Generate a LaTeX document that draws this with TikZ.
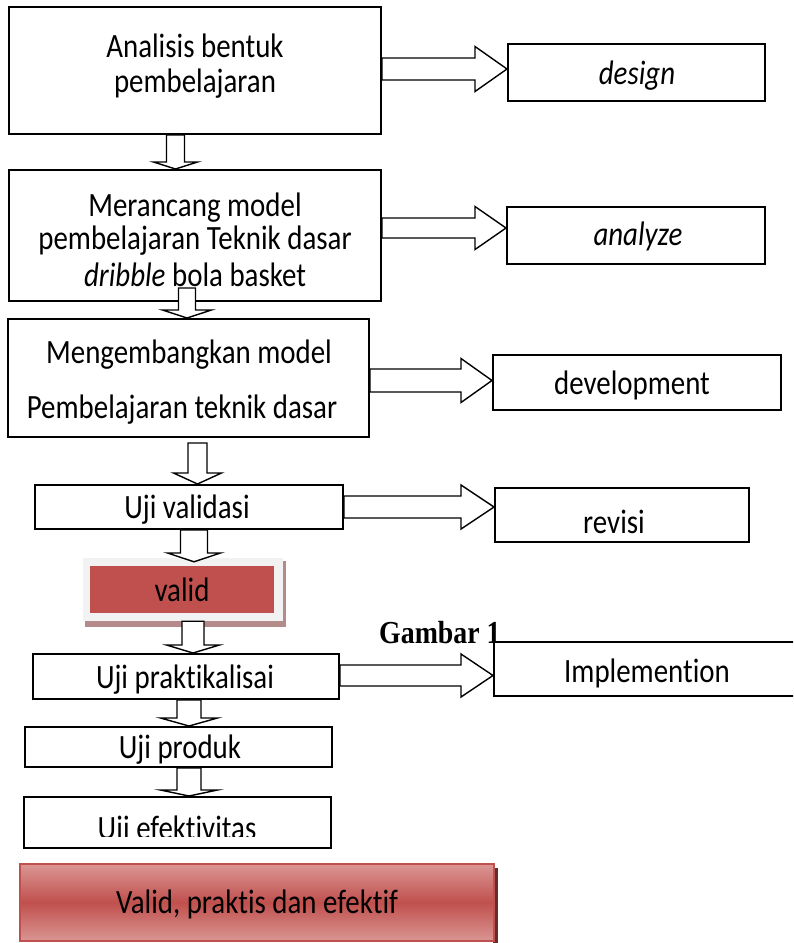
\documentclass[tikz,border=0pt]{standalone}
\usepackage{fontspec}
\setmainfont{Carlito}[FakeStretch=0.85, Ligatures=NoCommon]
\newfontfamily\capfont{Liberation Serif}[FakeStretch=0.87]
\usetikzlibrary{calc}
\definecolor{redfill}{HTML}{C0504D}
\definecolor{pinklight}{HTML}{DA9694}
\definecolor{palefr}{HTML}{F2F2F2}
\definecolor{shadowr}{HTML}{B38B8B}
\definecolor{darkshadow}{HTML}{6B2A2A}
\tikzset{
  box/.style={draw=black, line width=2pt, fill=white, rectangle, inner sep=0pt},
  txt/.style={anchor=base, inner sep=0pt, font=\fontsize{34}{40}\selectfont},
  blockarrow/.style={draw=black, line width=1.4pt, fill=white, line join=miter},
}
% box by corners: name, x1, y1, x2, y2
\newcommand{\boxat}[5]{\node[box, minimum width={(#4-#2)*1pt}, minimum height={(#5-#3)*1pt}] (#1) at ({(#2+#4)/2},{(#3+#5)/2}) {};}
% horizontal block arrow: from, to, y centre, head base x, half shaft, half head
\newcommand{\harrow}[6]{%
  \coordinate (ha1) at (0,#3-#5); \coordinate (ha2) at (0,#3+#5); \coordinate (hac) at (0,#3);
  \draw[blockarrow] (#1.east |- ha1) -- (#4,#3-#5) -- (#4,#3-#6) -- (#2.west |- hac) -- (#4,#3+#6) -- (#4,#3+#5) -- (#1.east |- ha2) -- cycle;}
% vertical block arrow: from, to, x, top offset, half shaft, half head, head top y, tip offset
\newcommand{\varrow}[8]{%
  \coordinate (va) at (#3,0);
  \coordinate (vt) at ($(#1.south -| va)+(0,#4)$);
  \coordinate (vp) at ($(#2.north -| va)+(0,#8)$);
  \draw[blockarrow] ($(vt)+(-#5,0)$) -- ($(vt)+(#5,0)$) -- (#3+#5,#7) -- (#3+#6,#7) -- (vp) -- (#3-#6,#7) -- (#3-#5,#7) -- cycle;}
\begin{document}
\begin{tikzpicture}[x=1pt,y=-1pt]
\useasboundingbox (0,0) rectangle (793,943);
\clip (0,0) rectangle (793,943);
% left column boxes
\boxat{b1}{9}{7}{381}{134}
\boxat{b2}{9}{170}{381}{301}
\boxat{b3}{8}{319}{369}{437}
\boxat{b4}{35}{485}{343}{529}
\boxat{b5}{33}{654}{339}{699}
\boxat{b6}{25}{727}{332}{767}
\boxat{b7}{24}{797}{331}{848}
% right column boxes
\boxat{d1}{508}{44}{765}{101}
\boxat{d2}{507}{207}{765}{264}
\boxat{d3}{493}{355}{781}{410}
\boxat{d4}{495}{488}{749}{542}
% caption (partly covered)
\node[anchor=base west, inner sep=0pt, font=\capfont\bfseries\fontsize{32}{34}\selectfont] (gam) at (379,643) {Gambar 1};
\boxat{d5}{494}{642}{810}{696}
% valid box
\fill[shadowr] (85,561) rectangle (286,627);
\node[fill=palefr, inner sep=0pt, minimum width=200pt, minimum height=63pt] (valid) at (183,589.5) {};
\fill[redfill] (90,566) rectangle (274,613);
% final box
\fill[darkshadow] (493,868) rectangle (498,943);
\node[draw=redfill, line width=1.6pt, top color=pinklight, bottom color=pinklight, middle color=redfill, inner sep=0pt, minimum width=474pt, minimum height=77pt] (fin) at (257,902.5) {};
% texts
\node[txt] (t1a) at (195,57) {Analisis bentuk};
\node[txt] (t1b) at (195,92) {pembelajaran};
\node[txt] (td1) at (637,84) {\itshape design};
\node[txt] (t2a) at (195,216) {Merancang model};
\node[txt] (t2b) at (195,249) {pembelajaran Teknik dasar};
\node[txt] (t2c) at (195,286) {\textit{dribble} bola basket};
\node[txt] (td2) at (638,245) {\itshape analyze};
\node[txt] (t3a) at (189,363) {Mengembangkan model};
\node[txt] (t3b) at (182,418) {Pembelajaran teknik dasar};
\node[txt] (td3) at (632,394) {development};
\node[txt] (t4) at (187,518) {Uji validasi};
\node[txt] (td4) at (614,533) {revisi};
\node[txt] (tv) at (182,601) {valid};
\node[txt] (t5) at (185,688) {Uji praktikalisai};
\node[txt] (td5) at (647,682) {Implemention};
\node[txt] (t6) at (180,758) {Uji produk};
\begin{scope}
  \clip (24,797) rectangle (331,836.5);
  \node[txt] (t7) at (177,839) {Uji efektivitas};
\end{scope}
\node[txt] (tf) at (257,913) {Valid, praktis dan efektif};
% horizontal arrows
\harrow{b1}{d1}{69}{475}{11}{22.5}
\harrow{b2}{d2}{228}{475}{10}{21.5}
\harrow{b3}{d3}{380.5}{461}{11.5}{22}
\harrow{b4}{d4}{507}{461}{11}{22}
\harrow{b5}{d5}{675.5}{461}{10.5}{21.5}
% vertical arrows
\varrow{b1}{b2}{175.5}{0}{9}{22}{162}{0}
\varrow{b2}{b3}{187}{-14}{8.5}{24.5}{310}{0}
\varrow{b3}{b4}{197.5}{5}{9.5}{24}{473}{0}
\varrow{b4}{valid}{194}{0}{13.5}{26.5}{553}{4}
\varrow{valid}{b5}{193}{0}{11}{26.5}{645}{0}
\varrow{b5}{b6}{189}{0}{12}{28.5}{718}{0}
\varrow{b6}{b7}{189}{0}{12}{28.5}{790}{0}
\end{tikzpicture}
\end{document}
